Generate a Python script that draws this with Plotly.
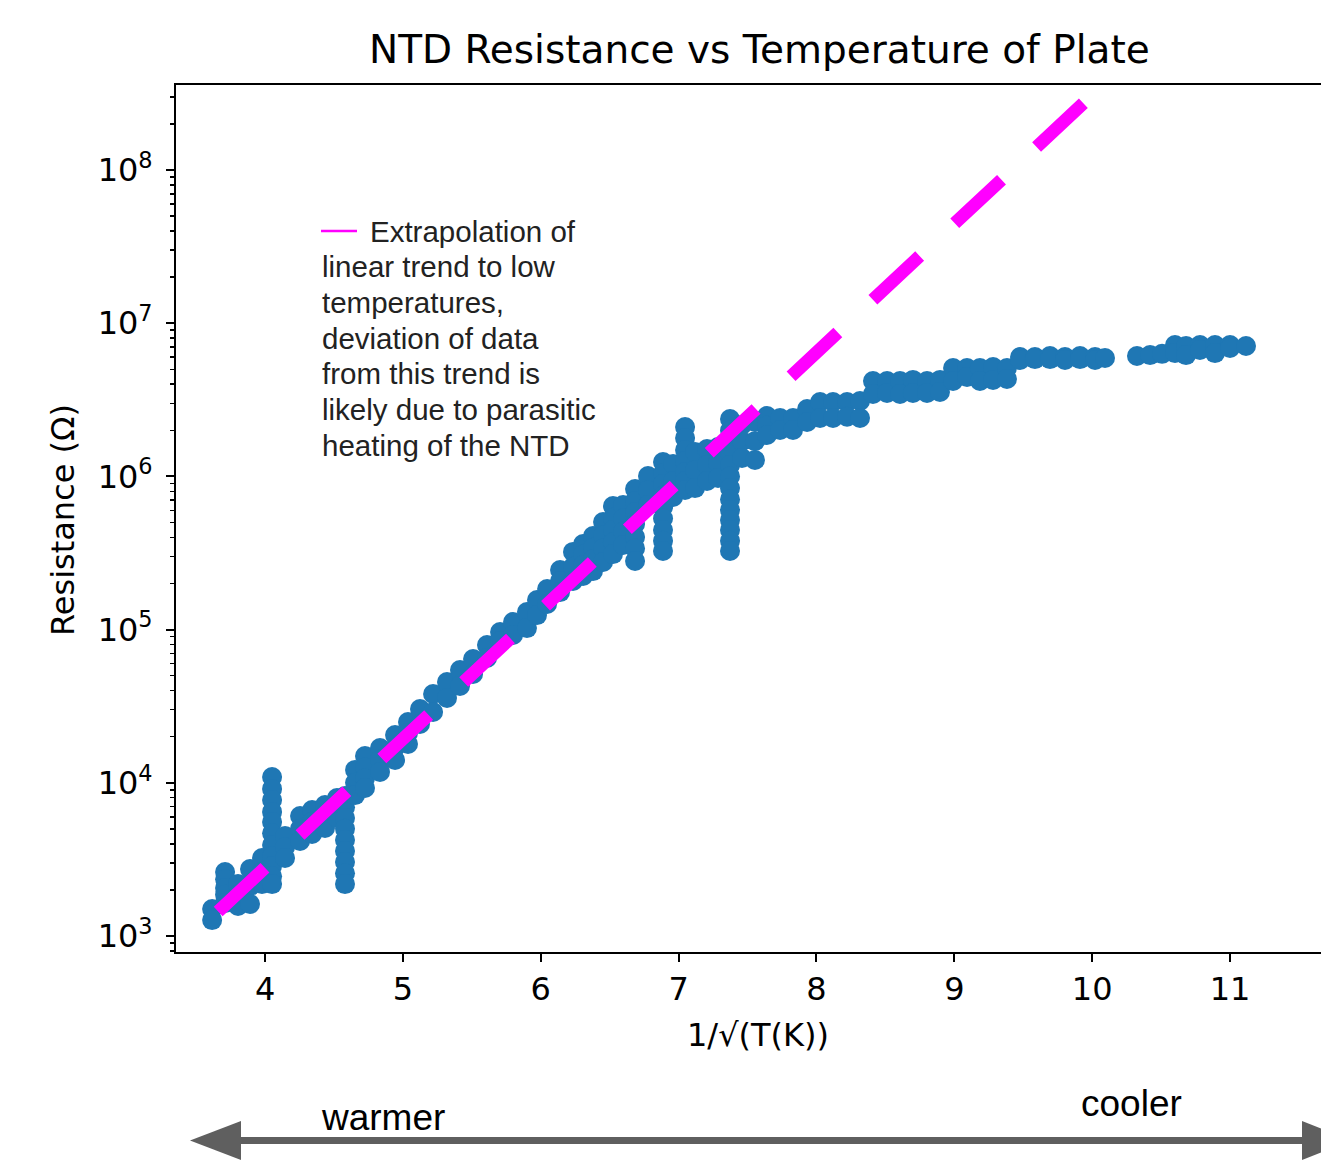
import plotly.graph_objects as go

# ---------------- data ----------------
inv_sqrt_T = [
    3.616, 3.616,
    3.710, 3.710, 3.710, 3.710, 3.710,
    3.804, 3.804, 3.804,
    3.891, 3.891, 3.891,
    3.978, 3.978, 3.978,
    4.051, 4.051, 4.051, 4.051, 4.051, 4.051, 4.051, 4.051, 4.051, 4.051, 4.051,
    4.145, 4.145, 4.145,
    4.254, 4.254, 4.254,
    4.341, 4.341, 4.341,
    4.435, 4.435, 4.435,
    4.522, 4.522, 4.522,
    4.580, 4.580, 4.580, 4.580, 4.580, 4.580, 4.580, 4.580, 4.580,
    4.653, 4.653, 4.653,
    4.725, 4.725, 4.725, 4.725,
    4.834, 4.834, 4.834,
    4.943, 4.943, 4.943,
    5.037, 5.037, 5.037,
    5.124, 5.124,
    5.219, 5.219,
    5.320, 5.320,
    5.414, 5.414,
    5.509, 5.509,
    5.610, 5.610,
    5.705, 5.705,
    5.799, 5.799,
    5.900, 5.900,
    5.973, 5.973,
    6.046, 6.046,
    6.140, 6.140, 6.140,
    6.234, 6.234, 6.234,
    6.307, 6.307, 6.307, 6.307,
    6.379, 6.379, 6.379, 6.379,
    6.452, 6.452, 6.452, 6.452,
    6.524, 6.524, 6.524, 6.524, 6.524,
    6.597, 6.597, 6.597, 6.597,
    6.684, 6.684, 6.684, 6.684, 6.684, 6.684, 6.684,
    6.778, 6.778, 6.778,
    6.887, 6.887, 6.887, 6.887, 6.887, 6.887, 6.887, 6.887, 6.887,
    6.960, 6.960, 6.960,
    7.047, 7.047, 7.047, 7.047, 7.047, 7.047, 7.047,
    7.119, 7.119, 7.119,
    7.206, 7.206, 7.206,
    7.286, 7.286, 7.286,
    7.373, 7.373, 7.373, 7.373, 7.373, 7.373, 7.373, 7.373, 7.373, 7.373,
    7.373, 7.373, 7.373,
    7.460, 7.460, 7.460,
    7.554, 7.554, 7.554,
    7.641, 7.641, 7.641,
    7.736, 7.736,
    7.830, 7.830,
    7.932, 7.932,
    8.026, 8.026,
    8.120, 8.120,
    8.222, 8.222,
    8.316, 8.316,
    8.410, 8.410,
    8.512, 8.512,
    8.606, 8.606,
    8.700, 8.700,
    8.802, 8.802,
    8.896, 8.896,
    8.991, 8.991,
    9.092, 9.092,
    9.186, 9.186,
    9.281, 9.281,
    9.382, 9.382,
    9.477, 9.477,
    9.585, 9.585,
    9.694, 9.694,
    9.803, 9.803,
    9.912, 9.912,
    10.021, 10.021,
    10.093,
    10.325,
    10.420,
    10.507,
    10.601, 10.601,
    10.681, 10.681,
    10.782, 10.782,
    10.891, 10.891,
    11.000, 11.000,
    11.116,
]

log10_resistance = [
    3.176, 3.104,
    3.418, 3.370, 3.313, 3.270, 3.215,
    3.339, 3.270, 3.196,
    3.437, 3.326, 3.209,
    3.509, 3.420, 3.339,
    4.038, 3.960, 3.888, 3.810, 3.744, 3.670, 3.594, 3.520, 3.457, 3.390, 3.339,
    3.653, 3.580, 3.509,
    3.783, 3.700, 3.620,
    3.822, 3.745, 3.666,
    3.855, 3.780, 3.705,
    3.901, 3.835, 3.770,
    3.914, 3.840, 3.770, 3.700, 3.627, 3.555, 3.483, 3.410, 3.339,
    4.084, 4.000, 3.920,
    4.175, 4.100, 4.030, 3.966,
    4.227, 4.150, 4.071,
    4.312, 4.230, 4.149,
    4.397, 4.325, 4.253,
    4.482, 4.384,
    4.580, 4.462,
    4.658, 4.554,
    4.736, 4.632,
    4.808, 4.710,
    4.899, 4.815,
    4.984, 4.926,
    5.050, 4.965,
    5.115, 5.010,
    5.193, 5.095,
    5.265, 5.167,
    5.389, 5.317, 5.245,
    5.507, 5.410, 5.317,
    5.559, 5.490, 5.420, 5.350,
    5.611, 5.535, 5.460, 5.382,
    5.702, 5.615, 5.530, 5.441,
    5.807, 5.730, 5.650, 5.570, 5.493,
    5.813, 5.725, 5.640, 5.552,
    5.918, 5.840, 5.768, 5.690, 5.604, 5.530, 5.448,
    6.003, 5.910, 5.813,
    6.094, 6.020, 5.950, 5.875, 5.800, 5.725, 5.650, 5.580, 5.513,
    6.081, 5.970, 5.866,
    6.322, 6.250, 6.172, 6.100, 6.029, 5.970, 5.911,
    6.159, 6.040, 5.924,
    6.179, 6.075, 5.970,
    6.192, 6.090, 5.990,
    6.375, 6.300, 6.225, 6.150, 6.074, 6.000, 5.924, 5.850, 5.781, 5.715,
    5.650, 5.580, 5.513,
    6.336, 6.230, 6.120,
    6.355, 6.230, 6.107,
    6.394, 6.330, 6.270,
    6.381, 6.303,
    6.381, 6.303,
    6.440, 6.355,
    6.486, 6.381,
    6.486, 6.381,
    6.486, 6.390,
    6.492, 6.381,
    6.623, 6.538,
    6.623, 6.545,
    6.623, 6.538,
    6.630, 6.545,
    6.623, 6.545,
    6.630, 6.551,
    6.708, 6.623,
    6.708, 6.649,
    6.708, 6.623,
    6.714, 6.630,
    6.708, 6.636,
    6.779, 6.760,
    6.779, 6.766,
    6.786, 6.766,
    6.779, 6.760,
    6.786, 6.766,
    6.779, 6.760,
    6.773,
    6.786,
    6.792,
    6.800,
    6.858, 6.805,
    6.851, 6.792,
    6.858, 6.825,
    6.858, 6.805,
    6.858, 6.838,
    6.851,
]

resistance = [10 ** v for v in log10_resistance]

# linear-trend extrapolation (two end points)
fit_x = [3.66, 10.0]
fit_log10_R = [3.16, 8.49]
fit_R = [10 ** v for v in fit_log10_R]

x_ticks = [4, 5, 6, 7, 8, 9, 10, 11]
y_ticks = [1e3, 1e4, 1e5, 1e6, 1e7, 1e8]
y_tick_text = ["10<sup>3</sup>", "10<sup>4</sup>", "10<sup>5</sup>",
               "10<sup>6</sup>", "10<sup>7</sup>", "10<sup>8</sup>"]
y_minor = [m * 10 ** e for e in range(2, 9) for m in range(2, 10)]

note_lines = ["Extrapolation of", "linear trend to low", "temperatures,",
              "deviation of data", "from this trend is",
              "likely due to parasitic", "heating of the NTD"]

# ---------------- figure ----------------
W, H = 1321, 1163
L, R, T, B = 176, 0, 85, 211
PW, PH = W - L - R, H - T - B


def px(xp):
    return (xp - L) / PW


def py(yp):
    return (H - B - yp) / PH


MONO = "DejaVu Sans"
SANS = "Liberation Sans, Arial, sans-serif"

fig = go.Figure()
fig.add_trace(go.Scatter(
    x=inv_sqrt_T, y=resistance, mode="markers",
    marker=dict(size=20, color="#1f77b4", line=dict(width=0)),
    showlegend=False, hoverinfo="skip",
))
fig.add_trace(go.Scatter(
    x=fit_x, y=fit_R, mode="lines",
    line=dict(color="#ff00ff", width=13, dash="64px,48px"),
    showlegend=False, hoverinfo="skip",
))

fig.update_layout(
    width=W, height=H,
    margin=dict(l=L, r=R, t=T, b=B, pad=0),
    paper_bgcolor="white", plot_bgcolor="white",
    font=dict(family=MONO, size=32, color="black"),
    xaxis=dict(
        range=[3.354, 11.66], tickvals=x_ticks, ticktext=[str(v) for v in x_ticks],
        showgrid=False, zeroline=False, showline=True, linecolor="black",
        linewidth=2, mirror=True, ticks="outside", ticklen=8, tickwidth=2,
        tickcolor="black", tickfont=dict(family=MONO, size=32, color="black"),
    ),
    yaxis=dict(
        type="log", range=[2.8956, 8.555], tickvals=y_ticks, ticktext=y_tick_text,
        showgrid=False, zeroline=False, showline=True, linecolor="black",
        linewidth=2, ticks="outside", ticklen=8, tickwidth=2, tickcolor="black",
        tickfont=dict(family=MONO, size=32, color="black"),
        ticklabelstandoff=7,
        minor=dict(tickvals=y_minor, ticks="outside", ticklen=4, tickwidth=1.5,
                   tickcolor="black", showgrid=False),
    ),
)

annotations = [
    dict(text="NTD Resistance vs Temperature of Plate", x=px(759), y=py(50),
         font=dict(family=MONO, size=39, color="black")),
    dict(text="1/√(T(K))", x=px(758), y=py(1035),
         font=dict(family=MONO, size=32, color="black")),
    dict(text="Resistance (Ω)", x=px(63), y=py(520), textangle=-90,
         font=dict(family=MONO, size=32, color="black")),
    dict(text="warmer", x=px(320), y=py(1117), xanchor="left",
         font=dict(family=SANS, size=37, color="black")),
    dict(text="cooler", x=px(1080), y=py(1103), xanchor="left",
         font=dict(family=SANS, size=37, color="black")),
]
line_y0, line_dy = 231, 35.67
for i, t in enumerate(note_lines):
    annotations.append(dict(
        text=t, x=px(369 if i == 0 else 321), y=py(line_y0 + i * line_dy),
        xanchor="left", font=dict(family=SANS, size=29.5, color="#222222")))
for a in annotations:
    a.setdefault("xanchor", "center")
    a.update(xref="paper", yref="paper", yanchor="middle", showarrow=False,
             borderpad=0)
fig.update_layout(annotations=annotations)

shapes = [
    # legend line for the extrapolation note
    dict(type="line", x0=px(321), x1=px(357), y0=py(231), y1=py(231),
         line=dict(color="#ff00ff", width=2.5)),
    # temperature arrow
    dict(type="line", x0=px(230), x1=px(1310), y0=py(1140.5), y1=py(1140.5),
         line=dict(color="#5f5f5f", width=7)),
    dict(type="path",
         path=f"M {px(190)},{py(1140.5)} L {px(241)},{py(1121)} L {px(241)},{py(1160)} Z",
         fillcolor="#5f5f5f", line=dict(width=0)),
    dict(type="path",
         path=f"M {px(1352)},{py(1140.5)} L {px(1302)},{py(1121)} L {px(1302)},{py(1160)} Z",
         fillcolor="#5f5f5f", line=dict(width=0)),
]
for s in shapes:
    s.update(xref="paper", yref="paper")
fig.update_layout(shapes=shapes)

fig.write_html(
    "out.html",
    config={"displayModeBar": False, "staticPlot": True},
    post_script="document.body.style.margin='0';"
                "document.body.style.overflow='hidden';"
                "document.documentElement.style.overflow='hidden';",
)
